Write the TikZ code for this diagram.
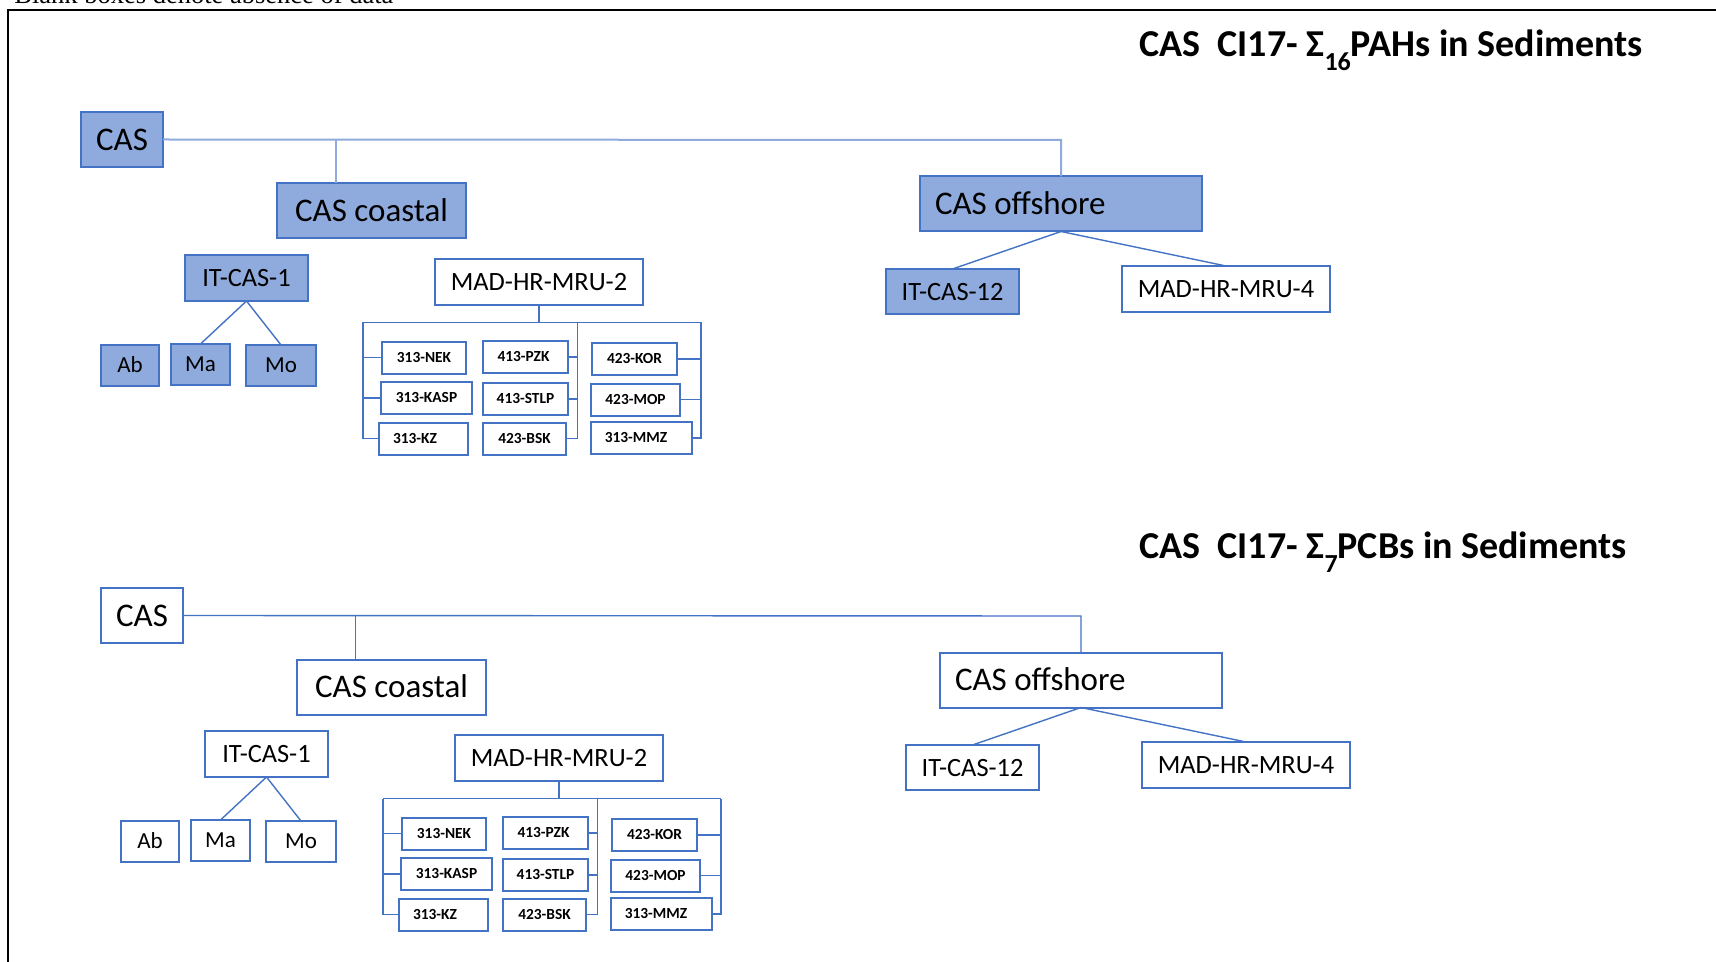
\documentclass[tikz,border=0pt]{standalone}
\usepackage{fontspec}
\setmainfont{Carlito}
\newfontfamily\serifnote{Liberation Serif}
\definecolor{boxfill}{HTML}{8FAADC}
\definecolor{boxline}{HTML}{4472C4}
\definecolor{lightline}{HTML}{8FAADC}
\tikzset{
  boxbase/.style={rectangle, draw=boxline, line width=1pt, inner sep=0pt, outer sep=0pt},
  databox/.style={boxbase, fill=boxfill},
  emptybox/.style={boxbase, fill=white},
  bigtext/.style={font=\fontsize{16.5pt}{18pt}\selectfont, text height=10.6pt, text depth=0pt},
  midtext/.style={font=\fontsize{13.2pt}{15pt}\selectfont, text height=8.5pt, text depth=0pt},
  abmtext/.style={font=\fontsize{11.5pt}{13pt}\selectfont, text height=7.4pt, text depth=0pt},
  smalltext/.style={font=\bfseries\fontsize{7.7pt}{9pt}\selectfont, text height=4.95pt, text depth=0pt},
  titletext/.style={font=\bfseries\fontsize{19pt}{22pt}\selectfont, inner sep=0pt, anchor=base west},
  notetext/.style={font=\serifnote\fontsize{13.25pt}{15pt}\selectfont, inner sep=0pt, anchor=base west},
  conn/.style={draw=boxline, line width=0.7pt},
  mainconnlight/.style={draw=lightline, line width=1pt},
  mainconndark/.style={draw=boxline, line width=0.7pt},
  frameline/.style={draw=black, line width=1.25pt},
}
\newcommand{\lowsub}[1]{\raisebox{-7pt}{\fontsize{13pt}{13pt}\selectfont #1}}
% name, cx, cy, width, height, style, text   (units: pixels)
\newcommand{\mkbox}[7]{\node[#6, minimum width=#4*0.5pt, minimum height=#5*0.5pt] (#1) at (#2,#3) {#7};}
% prefix, data-box style, main connector style
\newcommand{\casTree}[3]{%
  \mkbox{#1cas}{122}{139.5}{82}{55}{#2,bigtext}{CAS}
  \mkbox{#1coast}{371.5}{211}{189}{55}{#2,bigtext}{CAS coastal}
  \mkbox{#1off}{1061}{204}{282}{55}{#2,bigtext}{\makebox[126pt][l]{CAS offshore}}
  \mkbox{#1it}{246.5}{278}{123}{46}{#2,midtext}{IT-CAS-1}
  \mkbox{#1ab}{130}{365.5}{58}{41}{#2,abmtext}{Ab}
  \mkbox{#1ma}{200.5}{364.5}{59}{41}{#2,abmtext}{Ma}
  \mkbox{#1mo}{281}{365.5}{70}{41}{#2,abmtext}{Mo}
  \mkbox{#1madtwo}{539}{282}{208}{46}{emptybox,midtext}{MAD-HR-MRU-2}
  \mkbox{#1nek}{424}{357.5}{84}{32}{emptybox,smalltext}{313-NEK}
  \mkbox{#1kasp}{426.5}{398}{91}{32}{emptybox,smalltext}{313-KASP}
  \mkbox{#1kz}{423.5}{438.5}{89}{32}{emptybox,smalltext}{313-KZ\hspace*{8.5pt}}
  \mkbox{#1pzk}{525.5}{357}{85}{32}{emptybox,smalltext}{413-PZK\hspace*{2pt}}
  \mkbox{#1stlp}{525.5}{399}{85}{32}{emptybox,smalltext}{413-STLP}
  \mkbox{#1bsk}{524.5}{438.5}{83}{32}{emptybox,smalltext}{423-BSK}
  \mkbox{#1kor}{634.5}{359}{85}{32}{emptybox,smalltext}{423-KOR}
  \mkbox{#1mop}{635.5}{399.5}{89}{32}{emptybox,smalltext}{423-MOP}
  \mkbox{#1mmz}{641.5}{438}{101}{32}{emptybox,smalltext}{313-MMZ\hspace*{5.5pt}}
  \mkbox{#1itt}{952.5}{291.5}{133}{45}{#2,midtext}{IT-CAS-12}
  \mkbox{#1madfour}{1226}{289}{208}{46}{emptybox,midtext}{MAD-HR-MRU-4}
  \coordinate (#1split) at (335.5,140);
  \coordinate (#1corner) at (1061,140);
  \draw[#3] (#1cas.east) -- (#1corner) -- (#1off.north);
  \draw[#3] (#1split) -- (#1coast.north -| #1split);
  \draw[conn] (#1it.south) -- (#1ma.north);
  \draw[conn] (#1it.south) -- (#1mo.north);
  \draw[conn] (#1off.south) -- (#1itt.north);
  \draw[conn] (#1off.south) -- (#1madfour.north);
  \coordinate (#1bl) at (363,322.5);
  \coordinate (#1bm) at (577.5,322.5);
  \coordinate (#1br) at (701,322.5);
  \draw[conn] (#1madtwo.south) -- (#1madtwo.south |- #1bl);
  \draw[conn] (#1bl) -- (#1br);
  \draw[conn] (#1bl) -- (#1bl |- #1kz.west) -- (#1kz.west);
  \draw[conn] (#1nek.west) -- (#1nek.west -| #1bl);
  \draw[conn] (#1kasp.west) -- (#1kasp.west -| #1bl);
  \draw[conn] (#1bm) -- (#1bm |- #1bsk.east) -- (#1bsk.east);
  \draw[conn] (#1pzk.east) -- (#1pzk.east -| #1bm);
  \draw[conn] (#1stlp.east) -- (#1stlp.east -| #1bm);
  \draw[conn] (#1br) -- (#1br |- #1mmz.east) -- (#1mmz.east);
  \draw[conn] (#1kor.east) -- (#1kor.east -| #1br);
  \draw[conn] (#1mop.east) -- (#1mop.east -| #1br);
}
\begin{document}
\begin{tikzpicture}[x=0.5pt, y=-0.5pt]
  \useasboundingbox (0,0) rectangle (1716,962);
  \clip (0,0) rectangle (1716,962);
  \fill[white] (0,0) rectangle (1716,962);
  \node[notetext] (note) at (14,3.5) {Blank boxes denote absence of data};
  \draw[frameline] (8,962) -- (8,10) -- (1716,10);
  \node[titletext] (titlepah) at (1139,57) {CAS~~CI17- Σ\lowsub{16}PAHs in Sediments};
  \node[titletext] (titlepcb) at (1139,558) {CAS~~CI17- Σ\lowsub{7}PCBs in Sediments};
  \casTree{p}{databox}{mainconnlight}
  \begin{scope}[shift={(20,476)}]
    \casTree{q}{emptybox}{mainconndark}
  \end{scope}
\end{tikzpicture}
\end{document}
